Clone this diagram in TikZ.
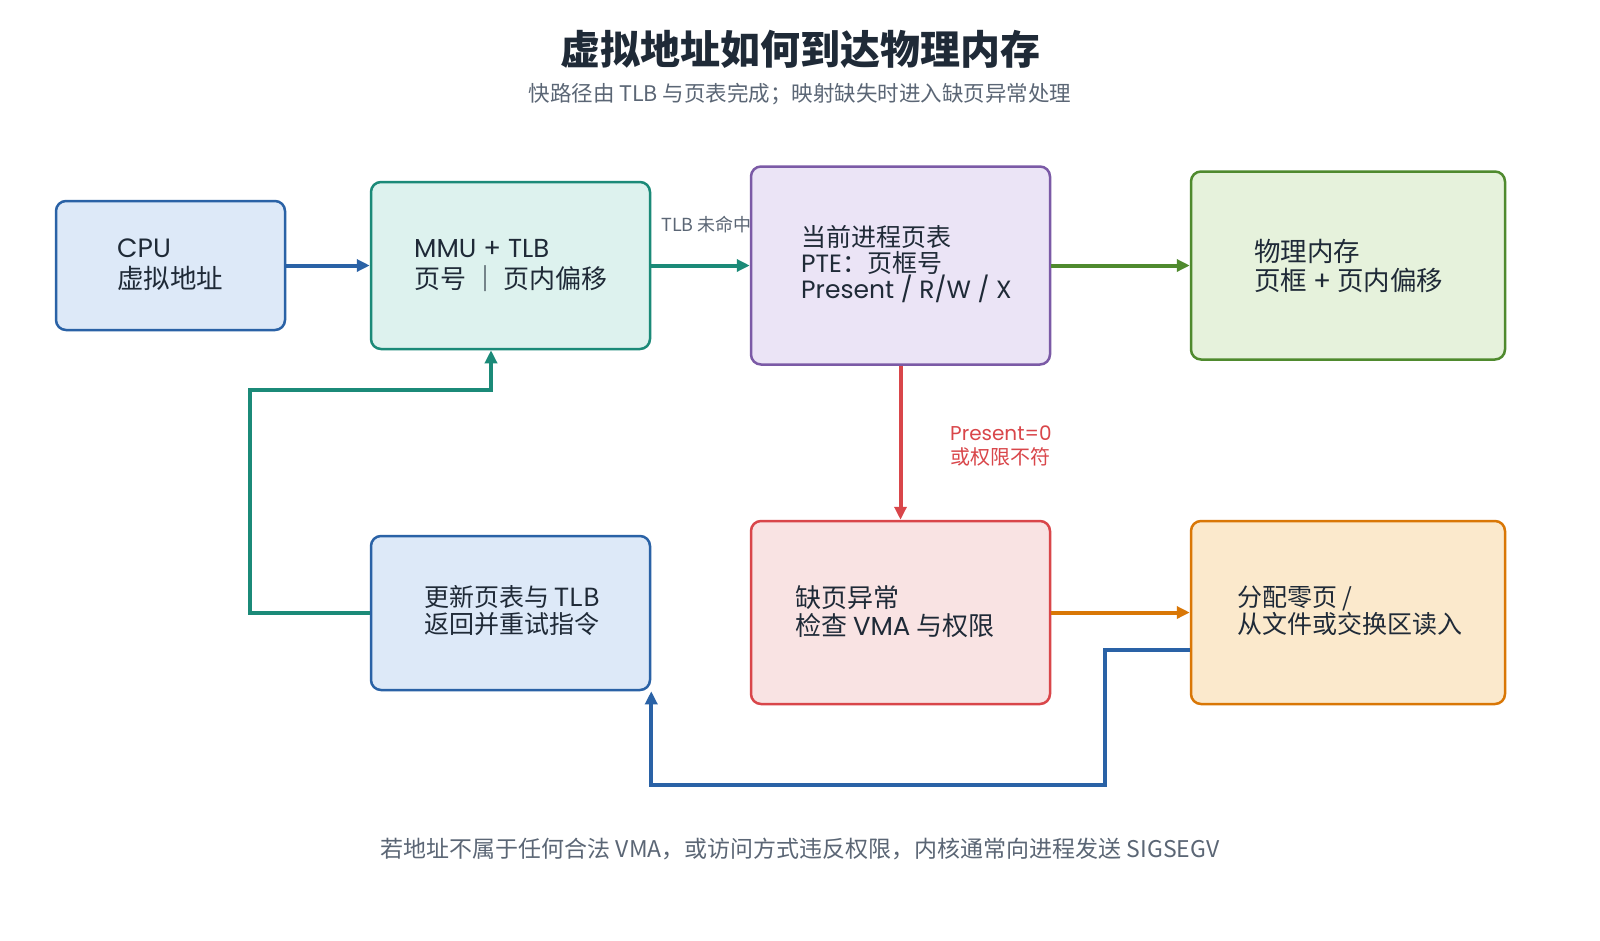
\documentclass[tikz,border=0pt]{standalone}
\usepackage{fontspec}
\setmainfont{Noto Sans CJK SC}
\newfontfamily\lat{Poppins}
\usetikzlibrary{arrows.meta}
\definecolor{ink}{HTML}{1F2A37}
\definecolor{sub}{HTML}{5B6675}
\definecolor{cblue}{HTML}{2A62A6}
\definecolor{fblue}{HTML}{DDE9F8}
\definecolor{cteal}{HTML}{1B8A78}
\definecolor{fteal}{HTML}{DDF2EE}
\definecolor{cpurp}{HTML}{7B5AA6}
\definecolor{fpurp}{HTML}{EBE4F6}
\definecolor{cgreen}{HTML}{4F8A2E}
\definecolor{fgreen}{HTML}{E6F2DC}
\definecolor{cred}{HTML}{D9464A}
\definecolor{fred}{HTML}{F9E3E3}
\definecolor{corange}{HTML}{D97706}
\definecolor{forange}{HTML}{FBE9CC}
\tikzset{
  box/.style={draw, rounded corners=10pt, line width=2.5pt, inner sep=0pt},
  boxtext/.style={anchor=west, align=left, text=ink, inner sep=0pt, font=\fontsize{26}{31}\selectfont},
  conn/.style={line width=4pt, -{Triangle[length=13pt,width=12pt]}},
}
\begin{document}
\begin{tikzpicture}[x=1pt,y=-1pt]
\useasboundingbox (0,0) rectangle (1600,940);
\fill[white] (0,0) rectangle (1600,940);

% title
\node[text=ink, font=\fontsize{40}{46}\selectfont\bfseries] (title) at (800,49) {虚拟地址如何到达物理内存};
\node[text=sub, font=\fontsize{21.5}{25}\selectfont] (subtitle) at (800,94) {快路径由 TLB 与页表完成；映射缺失时进入缺页异常处理};

% edge label behind boxes
\node[anchor=east, text=sub, inner sep=0pt, font=\fontsize{18}{21}\selectfont] (lbltlb) at (752,225) {TLB 未命中};

% boxes
\node[box, draw=cblue, fill=fblue, minimum width=229pt, minimum height=129pt] (cpu) at (170.5,265.5) {};
\node[box, draw=cteal, fill=fteal, minimum width=279pt, minimum height=167pt] (mmu) at (510.5,265.5) {};
\node[box, draw=cpurp, fill=fpurp, minimum width=299pt, minimum height=198pt] (pte) at (900.5,265.5) {};
\node[box, draw=cgreen, fill=fgreen, minimum width=314pt, minimum height=188pt] (phys) at (1348,265.5) {};
\node[box, draw=cblue, fill=fblue, minimum width=279pt, minimum height=154pt] (upd) at (510.5,613) {};
\node[box, draw=cred, fill=fred, minimum width=299pt, minimum height=183pt] (fault) at (900.5,612.5) {};
\node[box, draw=corange, fill=forange, minimum width=314pt, minimum height=183pt] (alloc) at (1348,612.5) {};

% box texts
\node[boxtext, font=\fontsize{26.5}{31}\selectfont] (tcpu) at (117,265) {{\lat CPU}\\虚拟地址};
\node[boxtext] (tmmu) at (414,265) {{\lat MMU + TLB}\\页号 ｜ 页内偏移};
\node[boxtext, font=\fontsize{25}{25.8}\selectfont] (tpte) at (801,264) {当前进程页表\\{\lat PTE}：页框号\\{\lat Present / R/W / X}};
\node[boxtext, font=\fontsize{26.5}{29}\selectfont] (tphys) at (1254,265.5) {物理内存\\页框 {\lat +} 页内偏移};
\node[boxtext, font=\fontsize{25}{27}\selectfont] (tupd) at (424,611) {更新页表与 TLB\\返回并重试指令};
\node[boxtext, font=\fontsize{26}{28}\selectfont] (tfault) at (795,612) {缺页异常\\检查 {\lat VMA} 与权限};
\node[boxtext, font=\fontsize{25}{27}\selectfont] (talloc) at (1237,611) {分配零页 /\\从文件或交换区读入};

% connectors
\draw[conn, cblue] (cpu.east) -- (mmu.west);
\draw[conn, cteal] (mmu.east) -- (pte.west);
\draw[conn, cgreen] (pte.east) -- (phys.west);
\draw[conn, cred] (pte.south) -- (fault.north);
\draw[conn, corange] (fault.east) -- (alloc.west);
\draw[conn, cteal] (upd.west) -| (250,390) -| ([xshift=-19.5pt]mmu.south);
\draw[conn, cblue] ([yshift=-37.5pt]alloc.west) -| (1105,785) -| (upd.south east);

% red label
\node[anchor=west, align=left, text=cred, inner sep=0pt, font=\fontsize{20}{23.5}\selectfont] (lblpres) at (950,446) {{\lat Present=0}\\或权限不符};

% footer
\node[text=sub, font=\fontsize{23}{27}\selectfont] (footer) at (800,849) {若地址不属于任何合法 VMA，或访问方式违反权限，内核通常向进程发送 SIGSEGV};
\end{tikzpicture}
\end{document}
